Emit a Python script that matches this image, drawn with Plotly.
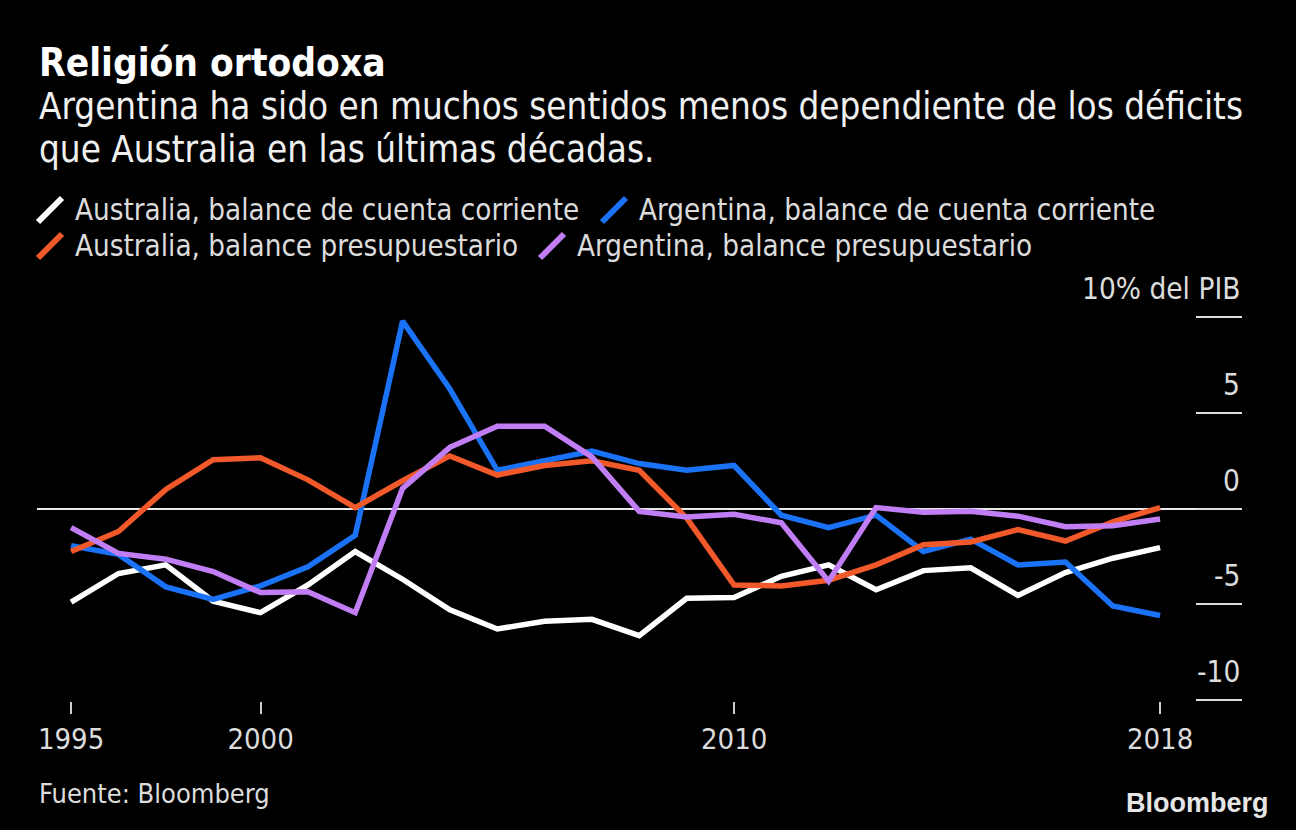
import plotly.graph_objects as go
import pandas as pd

# ---------------- data ----------------
years = list(range(1995, 2019))
aus_current_account = [-4.9, -3.4, -2.95, -4.85, -5.45, -4.0, -2.25, -3.7, -5.3, -6.3, -5.9, -5.8,
                       -6.65, -4.7, -4.65, -3.55, -2.95, -4.25, -3.25, -3.1, -4.55, -3.35, -2.6, -2.05]
arg_current_account = [-1.95, -2.4, -4.1, -4.75, -4.05, -3.05, -1.4, 9.8, 6.25, 2.0, 2.5, 3.0,
                       2.35, 2.0, 2.25, -0.35, -1.0, -0.35, -2.25, -1.6, -2.95, -2.8, -5.1, -5.6]
aus_budget = [-2.25, -1.2, 1.0, 2.55, 2.65, 1.5, 0.05, 1.45, 2.75, 1.75, 2.25, 2.5,
              2.0, -0.5, -4.0, -4.05, -3.75, -2.95, -1.9, -1.75, -1.1, -1.7, -0.7, 0.05]
arg_budget = [-1.0, -2.35, -2.65, -3.3, -4.4, -4.35, -5.45, 1.05, 3.2, 4.3, 4.3, 2.7,
              -0.15, -0.45, -0.3, -0.75, -3.8, 0.05, -0.2, -0.15, -0.4, -0.95, -0.9, -0.55]

series_names = ["Australia, balance de cuenta corriente",
                "Argentina, balance de cuenta corriente",
                "Australia, balance presupuestario",
                "Argentina, balance presupuestario"]
series_values = [aus_current_account, arg_current_account, aus_budget, arg_budget]
series_colors = ["#ffffff", "#1a72f6", "#f2592a", "#c17ef4"]

# points sit at year end; interior ticks at 1 January
x_dates = pd.to_datetime([f"{y}-12-31" for y in years])
x_tick_vals = ["1995-12-31", "2000-01-01", "2010-01-01", "2018-12-31"]
x_tick_text = ["1995", "2000", "2010", "2018"]
y_tick_vals = [-10, -5, 0, 5, 10]
y_tick_text = ["-10", "-5", "0", "5", "10% del PIB"]

title = "Religión ortodoxa"
subtitle_lines = ["Argentina ha sido en muchos sentidos menos dependiente de los déficits",
                  "que Australia en las últimas décadas."]
source = "Fuente: Bloomberg"

# ---------------- layout geometry ----------------
W, H = 1296, 830
L, R, T, B = 37, 54, 316, 129
PW, PH = W - L - R, H - T - B

def px(xp):
    return (xp - L) / PW

def py(yp):
    return (H - B - yp) / PH

FONT = "DejaVu Sans Condensed, Liberation Sans Narrow, DejaVu Sans, sans-serif"
TXT = "#dcdcdc"

fig = go.Figure()
for name, vals, col in zip(series_names, series_values, series_colors):
    fig.add_trace(go.Scatter(x=x_dates, y=vals, mode="lines", name=name,
                             line=dict(color=col, width=5.5), showlegend=False))

year = pd.Timedelta(days=365.25)
x_range = [x_dates[0] - 0.72 * year, x_dates[-1] + 1.73 * year]

fig.update_layout(
    width=W, height=H,
    margin=dict(l=L, r=R, t=T, b=B),
    paper_bgcolor="#000000", plot_bgcolor="#000000",
    font=dict(family=FONT, color=TXT),
    xaxis=dict(type="date", range=x_range, tickvals=x_tick_vals, ticktext=x_tick_text,
               ticks="outside", ticklen=12, tickwidth=1.5, tickcolor="#cccccc",
               showgrid=False, zeroline=False, showline=False,
               tickfont=dict(size=29, color=TXT, family=FONT)),
    yaxis=dict(range=[-10.07, 10.07], side="right", tickvals=y_tick_vals,
               ticks="inside", ticklen=46, tickwidth=1.5, tickcolor="#dddddd",
               showticklabels=False, showgrid=False, showline=False,
               zeroline=True, zerolinecolor="#e8e8e8", zerolinewidth=1.5),
    showlegend=False,
)

ann = []
ann.append(dict(text="<b>" + title + "</b>", x=px(37), y=py(63), xref="paper", yref="paper",
                xanchor="left", yanchor="middle", showarrow=False,
                font=dict(size=38.5, color="#ffffff", family=FONT)))
for line, cy in zip(subtitle_lines, [106, 149]):
    ann.append(dict(text=line, x=px(37), y=py(cy), xref="paper", yref="paper",
                    xanchor="left", yanchor="middle", showarrow=False, align="left",
                    font=dict(size=36.5, color="#f0f0f0", family=FONT)))
ann.append(dict(text=source, x=px(37), y=py(793), xref="paper", yref="paper",
                xanchor="left", yanchor="middle", showarrow=False,
                font=dict(size=27, color=TXT, family=FONT)))
ann.append(dict(text="<b>Bloomberg</b>", x=px(1271), y=py(803), xref="paper", yref="paper",
                xanchor="right", yanchor="middle", showarrow=False,
                font=dict(size=27, color="#e6e6e6", family="Liberation Sans, Arial, sans-serif")))
for v, t in zip(y_tick_vals, y_tick_text):
    ann.append(dict(text=t, x=1, y=v, xref="paper", yref="y", xanchor="right",
                    yanchor="middle", yshift=28, showarrow=False,
                    font=dict(size=29.5, color=TXT, family=FONT)))

# legend (slanted swatches + labels)
legend_pos = [(38, 73, 210), (602, 637, 210), (38, 73, 246), (540, 575, 246)]
shapes = []
for (sx, tx, cy), name, col in zip(legend_pos, series_names, series_colors):
    shapes.append(dict(type="line", xref="paper", yref="paper",
                       x0=px(sx), y0=py(cy + 12), x1=px(sx + 24), y1=py(cy - 12),
                       line=dict(color=col, width=6)))
    ann.append(dict(text=name, x=px(tx), y=py(cy), xref="paper", yref="paper",
                    xanchor="left", yanchor="middle", showarrow=False,
                    font=dict(size=29.3, color=TXT, family=FONT)))

fig.update_layout(annotations=ann, shapes=shapes)
fig.write_html("out.html")
